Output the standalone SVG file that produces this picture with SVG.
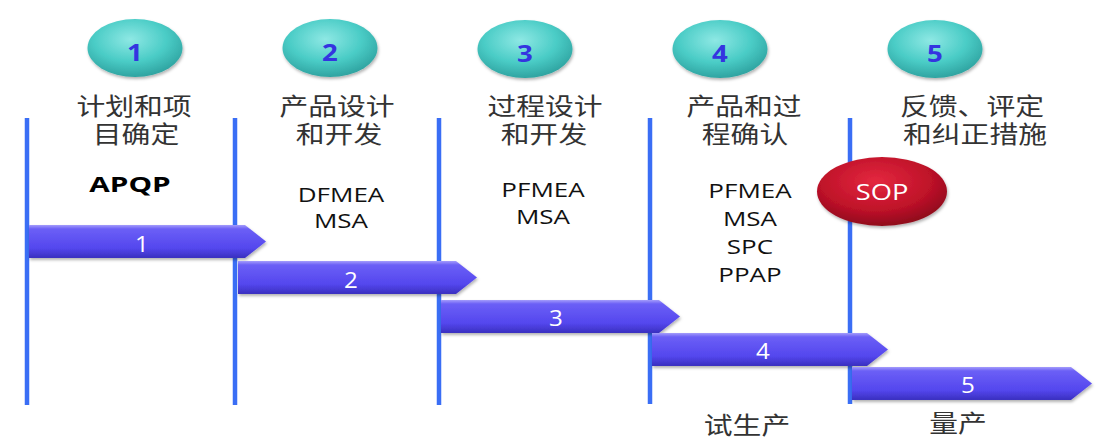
<svg xmlns="http://www.w3.org/2000/svg" width="1110" height="445" viewBox="0 0 1110 445">
<defs>
<radialGradient id="teal" cx="0.45" cy="0.35" r="0.7">
<stop offset="0" stop-color="#8ee8e4"/>
<stop offset="0.55" stop-color="#4accc6"/>
<stop offset="1" stop-color="#2a9c9a"/>
</radialGradient>
<radialGradient id="red" cx="0.45" cy="0.35" r="0.7">
<stop offset="0" stop-color="#e4283f"/>
<stop offset="0.6" stop-color="#bf1229"/>
<stop offset="1" stop-color="#850a1a"/>
</radialGradient>
<linearGradient id="purple" x1="0" y1="0" x2="0" y2="1">
<stop offset="0" stop-color="#a49cfb"/>
<stop offset="0.12" stop-color="#6b5ff6"/>
<stop offset="0.7" stop-color="#5447ee"/>
<stop offset="1" stop-color="#3a2fbf"/>
</linearGradient>
<filter id="sh" x="-20%" y="-20%" width="140%" height="150%">
<feDropShadow dx="1" dy="2" stdDeviation="1.5" flood-color="#000" flood-opacity="0.3"/>
</filter>
</defs>
<style>
.vline{stroke:#3a6ef5;stroke-width:4.5;}
.step{fill:url(#teal);filter:url(#sh);}
.num{font-family:"Open Sans","Liberation Sans",sans-serif;font-weight:bold;font-size:24px;fill:#3434e0;text-anchor:middle;}
.zh{font-family:"Noto Sans CJK SC",sans-serif;font-size:24px;fill:#333;text-anchor:middle;}
.lat{font-family:"Open Sans","Liberation Sans",sans-serif;font-size:20px;fill:#111;text-anchor:middle;}
.bold{font-weight:bold;font-size:22px;fill:#000;}
.arrow{fill:url(#purple);filter:url(#sh);}
.anum{font-family:"Open Sans","Liberation Sans",sans-serif;font-size:21px;fill:#fff;text-anchor:middle;}
.sop{font-family:"Open Sans","Liberation Sans",sans-serif;font-size:21px;fill:#fff;text-anchor:middle;}
</style>
<rect width="1110" height="445" fill="#fff"/>
<g id="lines">
<line class="vline" x1="27" y1="118" x2="27" y2="405"/>
<line class="vline" x1="235" y1="118" x2="235" y2="405"/>
<line class="vline" x1="439" y1="118" x2="439" y2="405"/>
<line class="vline" x1="650" y1="118" x2="650" y2="404"/>
<line class="vline" x1="850" y1="118" x2="850" y2="404"/>
</g>
<g id="phase1">
<ellipse class="step" cx="135" cy="48" rx="47.5" ry="29"/>
<text class="num" transform="translate(135,61) scale(1.15,1)">1</text>
<text class="zh" transform="translate(134,115) scale(1.2,1)">计划和项</text>
<text class="zh" transform="translate(136,143) scale(1.2,1)">目确定</text>
<text class="lat bold" transform="translate(130,192) scale(1.35,1)">APQP</text>
</g>
<g id="phase2">
<ellipse class="step" cx="330" cy="48" rx="47.5" ry="29"/>
<text class="num" transform="translate(330,61) scale(1.15,1)">2</text>
<text class="zh" transform="translate(337,115) scale(1.2,1)">产品设计</text>
<text class="zh" transform="translate(339,143) scale(1.2,1)">和开发</text>
<text class="lat" transform="translate(341,202) scale(1.3,1)">DFMEA</text>
<text class="lat" transform="translate(341,228) scale(1.3,1)">MSA</text>
</g>
<g id="phase3">
<ellipse class="step" cx="525" cy="49" rx="47.5" ry="29"/>
<text class="num" transform="translate(525,62) scale(1.15,1)">3</text>
<text class="zh" transform="translate(545,115) scale(1.2,1)">过程设计</text>
<text class="zh" transform="translate(544,143) scale(1.2,1)">和开发</text>
<text class="lat" transform="translate(543,197) scale(1.3,1)">PFMEA</text>
<text class="lat" transform="translate(543,224) scale(1.3,1)">MSA</text>
</g>
<g id="phase4">
<ellipse class="step" cx="720" cy="49" rx="47.5" ry="29"/>
<text class="num" transform="translate(720,62) scale(1.15,1)">4</text>
<text class="zh" transform="translate(744,115) scale(1.2,1)">产品和过</text>
<text class="zh" transform="translate(745,143) scale(1.2,1)">程确认</text>
<text class="lat" transform="translate(750,198) scale(1.3,1)">PFMEA</text>
<text class="lat" transform="translate(750,226) scale(1.3,1)">MSA</text>
<text class="lat" transform="translate(750,254) scale(1.3,1)">SPC</text>
<text class="lat" transform="translate(750,282) scale(1.3,1)">PPAP</text>
</g>
<g id="phase5">
<ellipse class="step" cx="935" cy="49" rx="47.5" ry="29"/>
<text class="num" transform="translate(935,62) scale(1.15,1)">5</text>
<text class="zh" transform="translate(972,115) scale(1.2,1)">反馈、评定</text>
<text class="zh" transform="translate(975,143) scale(1.2,1)">和纠正措施</text>
</g>
<g id="sop">
<ellipse cx="882" cy="191.5" rx="65" ry="34.5" fill="url(#red)" filter="url(#sh)"/>
<text class="sop" transform="translate(882,200) scale(1.3,1)">SOP</text>
</g>
<g id="connectors">
<path class="arrow" d="M29,225 H245 L266,241.5 L245,258 H29 Z"/>
<text class="anum" transform="translate(142,252) scale(1.15,1)">1</text>
<path class="arrow" d="M238,261 H456 L477,277.5 L456,294 H238 Z"/>
<text class="anum" transform="translate(351,288) scale(1.15,1)">2</text>
<path class="arrow" d="M441,300 H659 L680,316.5 L659,333 H441 Z"/>
<text class="anum" transform="translate(556,326) scale(1.15,1)">3</text>
<path class="arrow" d="M652,333 H867 L888,349.5 L867,366 H652 Z"/>
<text class="anum" transform="translate(763,359) scale(1.15,1)">4</text>
<path class="arrow" d="M852,367 H1071 L1092,383.5 L1071,400 H852 Z"/>
<text class="anum" transform="translate(968,393) scale(1.15,1)">5</text>
</g>
<g id="bottom">
<text class="zh" transform="translate(747,434) scale(1.2,1)">试生产</text>
<text class="zh" transform="translate(958,432) scale(1.2,1)">量产</text>
</g>
</svg>
